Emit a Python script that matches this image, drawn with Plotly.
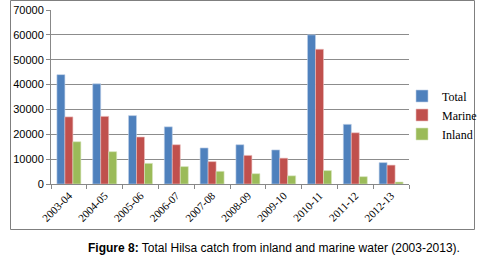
import plotly.graph_objects as go

years = ["2003-04", "2004-05", "2005-06", "2006-07", "2007-08",
         "2008-09", "2009-10", "2010-11", "2011-12", "2012-13"]
total = [44000, 40300, 27500, 23000, 14500, 15800, 13700, 60000, 24000, 8600]
marine = [27000, 27200, 18900, 15800, 9000, 11500, 10400, 54200, 20600, 7600]
inland = [17000, 13000, 8300, 7000, 5100, 4150, 3300, 5400, 2950, 800]
y_ticks = [0, 10000, 20000, 30000, 40000, 50000, 60000, 70000]

fig = go.Figure()
series = [("Total", total, "#4F81BD", "#BFD0E8"),
          ("Marine", marine, "#C0504D", "#EBC0BF"),
          ("Inland", inland, "#9BBB59", "#D8E6BF")]
for name, vals, col, edge in series:
    fig.add_trace(go.Bar(x=years, y=vals, name=name,
                         marker=dict(color=col, line=dict(color=edge, width=0.6))))

W, H = 480, 257
L, T = 51, 10
R, B = W - 409, H - 184
pw, ph = W - L - R, H - T - B

def px(x):
    return (x - L) / pw

def py(y):
    return (H - B - y) / ph

fig.update_layout(
    width=W, height=H,
    margin=dict(l=L, r=R, t=T, b=B, autoexpand=False),
    paper_bgcolor="white", plot_bgcolor="white",
    barmode="group", bargap=0.33, bargroupgap=0,
    showlegend=True,
    legend=dict(x=px(402), y=py(115), xanchor="left", yanchor="middle",
                font=dict(family="Liberation Serif", size=12, color="black"),
                itemwidth=30, tracegroupgap=0, bgcolor="rgba(0,0,0,0)"),
    xaxis=dict(type="category", tickangle=-45, showline=True, linecolor="#888888",
               linewidth=1, ticks="outside", ticklen=4, tickcolor="#888888",
               tickson="boundaries", showgrid=False, automargin=False,
               tickfont=dict(family="Liberation Serif", size=11, color="black")),
    yaxis=dict(range=[0, 70000], tickvals=y_ticks, ticktext=[str(v) for v in y_ticks],
               showline=True, linecolor="#888888", linewidth=1, ticks="outside",
               ticklen=4, tickcolor="#888888", showgrid=True, gridcolor="#8C8C8C",
               gridwidth=1, zeroline=False, automargin=False,
               tickfont=dict(family="Liberation Sans", size=11, color="black")),
    shapes=[dict(type="rect", xref="paper", yref="paper",
                 x0=px(10.5), x1=px(474.5), y0=py(229.5), y1=py(0.5),
                 line=dict(color="#7F7F7F", width=1), fillcolor="rgba(0,0,0,0)",
                 layer="below")],
    annotations=[dict(xref="paper", yref="paper", x=px(274), y=py(248),
                      xanchor="center", yanchor="middle", showarrow=False,
                      text="<b>Figure 8:</b> Total Hilsa catch from inland and marine water (2003-2013).",
                      font=dict(family="Liberation Sans", size=12, color="black"))],
)

fig.write_html("out.html", config={"displayModeBar": False},
               post_script="document.body.style.margin='0';")
